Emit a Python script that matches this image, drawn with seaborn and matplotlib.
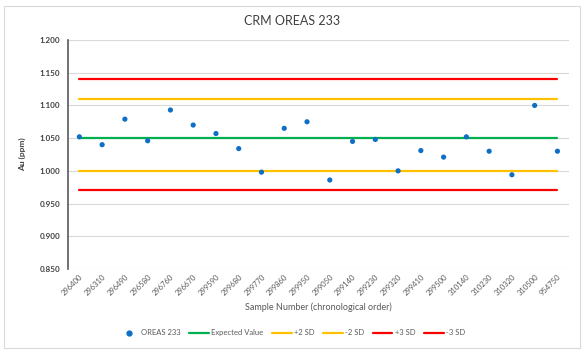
import seaborn as sns
import matplotlib.pyplot as plt
import matplotlib.patches as mpatches
from matplotlib.lines import Line2D
import pandas as pd

# data
samples = ['296400', '296310', '296490', '296580', '296760', '296670',
           '299590', '299680', '299770', '299860', '299950', '299050',
           '299140', '299230', '299320', '299410', '299500', '310140',
           '310230', '310320', '310500', '954750']
au_ppm = [1.052, 1.040, 1.079, 1.046, 1.093, 1.070, 1.057, 1.034, 0.998,
          1.065, 1.075, 0.986, 1.045, 1.048, 1.000, 1.031, 1.021, 1.052,
          1.030, 0.994, 1.100, 1.030]

limit_names = ['Expected Value', '+2 SD', '-2 SD', '+3 SD', '-3 SD']
limit_values = [1.050, 1.110, 1.000, 1.140, 0.970]
limit_colors = ['#00B050', '#FFC000', '#FFC000', '#FF0000', '#FF0000']

sns.set_theme(style="white")
plt.rcParams['font.family'] = ['Lato', 'DejaVu Sans']

pts = pd.DataFrame({'idx': range(len(samples)), 'sample': samples, 'au': au_ppm})
limits = pd.DataFrame([
    {'idx': i, 'series': name, 'value': val}
    for name, val in zip(limit_names, limit_values)
    for i in range(len(samples))
])

fig = plt.figure(figsize=(5.84, 3.53), dpi=100)
ax = fig.add_axes([0.1164, 0.238, 0.974 - 0.1164, 0.8867 - 0.238])

sns.lineplot(data=limits, x='idx', y='value', hue='series', hue_order=limit_names,
             palette=dict(zip(limit_names, limit_colors)), linewidth=1.6,
             ax=ax, legend=False)
sns.scatterplot(data=pts, x='idx', y='au', color='#0F6FC6', s=14,
                edgecolor='none', ax=ax, zorder=5, legend=False)

ax.set_xlim(-0.5, len(samples) - 0.5)
ax.set_ylim(0.85, 1.2)
ax.set_yticks([0.85 + 0.05 * i for i in range(8)])
ax.yaxis.set_major_formatter(plt.FuncFormatter(lambda v, p: f"{v:.3f}"))
ax.set_xticks(range(len(samples)))
ax.set_xticklabels(samples, rotation=45, ha='right', rotation_mode='anchor')
ax.tick_params(axis='x', labelsize=5.5, labelcolor='#595959', length=0, pad=3)
ax.tick_params(axis='y', labelsize=5.8, labelcolor='#404040', length=0, pad=5.5)
for lab in ax.get_yticklabels():
    lab.set_fontweight('bold')

ax.grid(axis='y', color='#D9D9D9', linewidth=0.8)
ax.set_axisbelow(True)
for side in ['top', 'right', 'bottom']:
    ax.spines[side].set_visible(False)
ax.spines['left'].set_color('#595959')
ax.spines['left'].set_linewidth(1.2)

ax.set_ylabel('Au (ppm)', fontsize=6, fontweight='bold', color='#404040', labelpad=10)
ax.set_xlabel('Sample Number (chronological order)', fontsize=6.5, color='#595959', labelpad=4)
fig.text(0.5, 0.94, 'CRM OREAS 233', ha='center', va='center', fontsize=9, color='#404040')

handles = [Line2D([], [], marker='o', linestyle='none', color='#0F6FC6', markersize=3.5)]
handles += [Line2D([], [], color=c, linewidth=1.6) for c in limit_colors]
fig.legend(handles, ['OREAS 233'] + limit_names, loc='center', bbox_to_anchor=(0.5, 0.057),
           ncol=6, frameon=False, fontsize=5.5, handlelength=2.6, handletextpad=0.3,
           columnspacing=1.1, labelcolor='#595959')

fig.patches.append(mpatches.Rectangle((0.006, 0.015), 0.988, 0.968, transform=fig.transFigure,
                                      fill=False, edgecolor='#D9D9D9', linewidth=0.8))

plt.savefig('out.png', dpi=100)
plt.close()
